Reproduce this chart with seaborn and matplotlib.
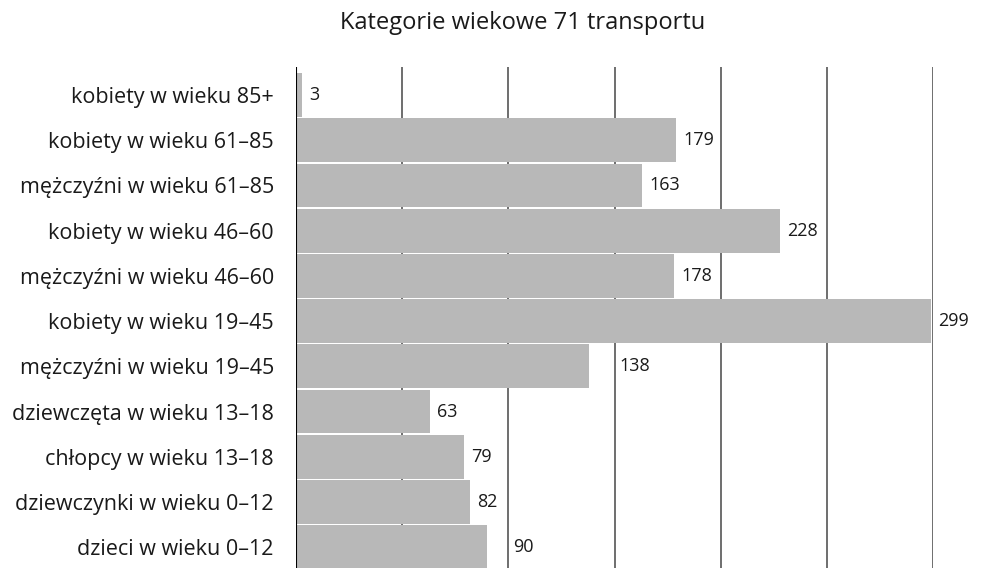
import pandas as pd
import matplotlib.pyplot as plt
import seaborn as sns

# Dane
kategorie = [
    "kobiety w wieku 85+",
    "kobiety w wieku 61–85",
    "mężczyźni w wieku 61–85",
    "kobiety w wieku 46–60",
    "mężczyźni w wieku 46–60",
    "kobiety w wieku 19–45",
    "mężczyźni w wieku 19–45",
    "dziewczęta w wieku 13–18",
    "chłopcy w wieku 13–18",
    "dziewczynki w wieku 0–12",
    "dzieci w wieku 0–12",
]
wartosci = [3, 179, 163, 228, 178, 299, 138, 63, 79, 82, 90]
siatka_x = [0, 50, 100, 150, 200, 250, 300]

df = pd.DataFrame({"kategoria": kategorie, "liczba": wartosci})

sns.set_style("white")
plt.rcParams["font.family"] = ["Open Sans", "DejaVu Sans"]

fig = plt.figure(figsize=(9.81, 5.68), dpi=100)
ax = fig.add_axes([296 / 981, 0, (933 - 296) / 981, 1 - 67 / 568])

# Siatka pionowa pod słupkami
for x in siatka_x[1:]:
    ax.axvline(x, color="#555555", lw=1.2, zorder=0)
ax.axvline(0, color="black", lw=1.5, zorder=3)

sns.barplot(data=df, y="kategoria", x="liczba", color="#b8b8b8", saturation=1,
            width=0.97, edgecolor="none", ax=ax, zorder=2)

ax.set_xlim(0, 300)
ax.set_ylim(10.46, -0.62)

# Etykiety wartości - przesunięte za linię siatki, jeśli na nią nachodzą
px = 300 / (933 - 296)  # jednostki na piksel
for i, v in enumerate(wartosci):
    start = v + 7 * px
    for g in siatka_x[1:]:
        if start - 8 * px <= g <= start + 28 * px:
            start = g + 5 * px
    ax.text(start, i, str(v), va="center", ha="left", fontsize=13,
            color="#1a1a1a", clip_on=False)

ax.set_xlabel("")
ax.set_ylabel("")
ax.set_xticks([])
ax.tick_params(axis="y", length=0, pad=16, labelsize=15.5, labelcolor="#1a1a1a")
for s in ax.spines.values():
    s.set_visible(False)

fig.text(523 / 981, 1 - 23 / 568, "Kategorie wiekowe 71 transportu",
         ha="center", va="center", fontsize=17, color="#1a1a1a")

plt.savefig("out.png", dpi=100)
